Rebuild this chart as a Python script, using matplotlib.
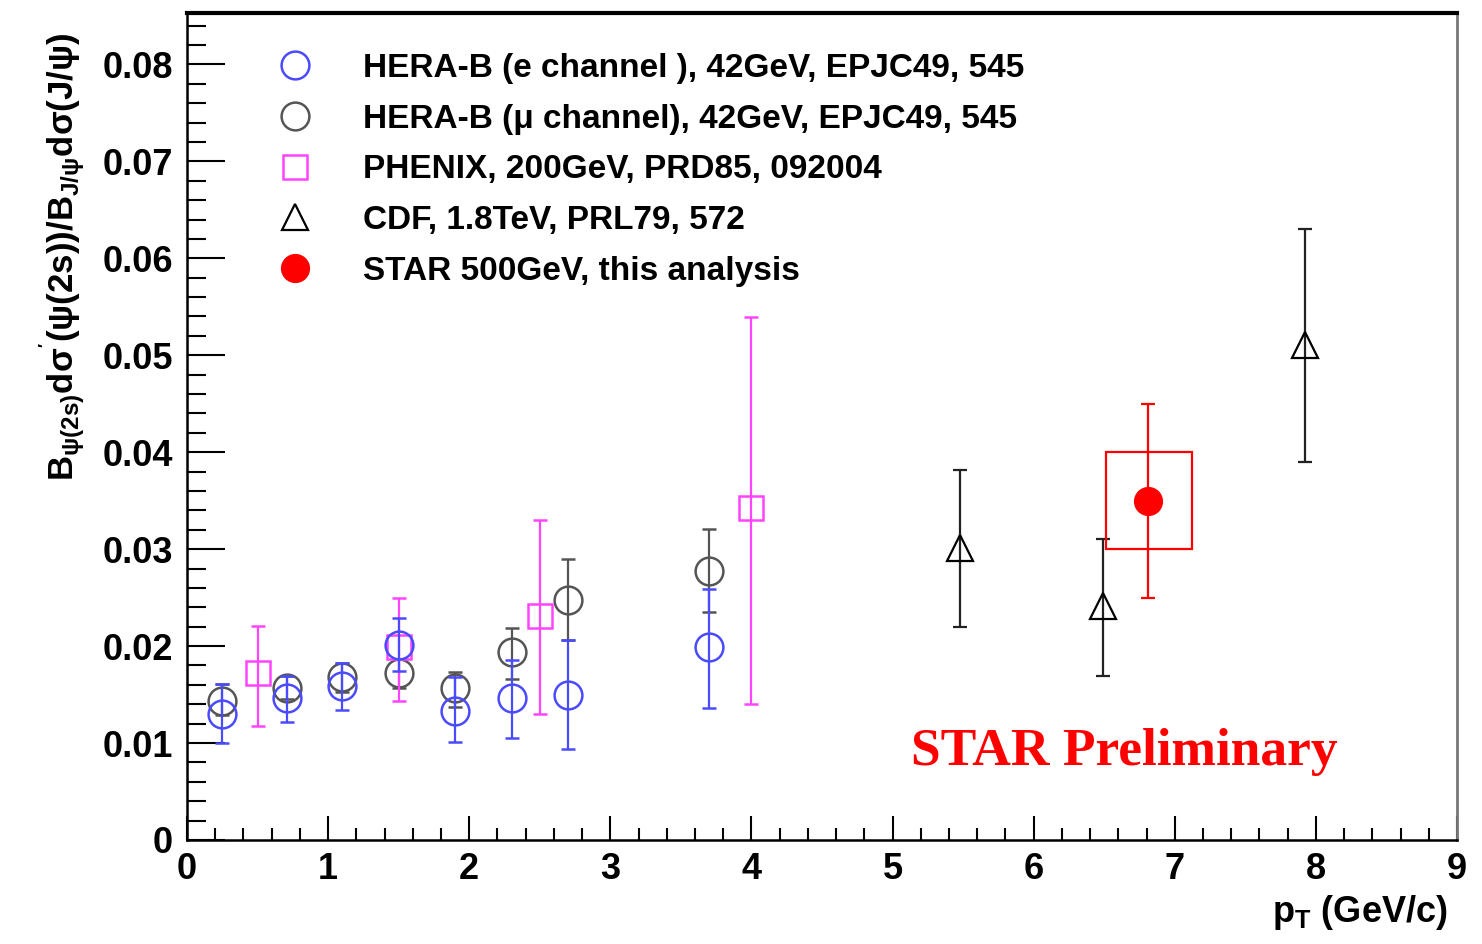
import numpy as np
import matplotlib.pyplot as plt
from matplotlib.lines import Line2D
from matplotlib.patches import Rectangle
from matplotlib.ticker import MultipleLocator

# HERA-B, e channel
herab_e_pt = [0.25, 0.71, 1.1, 1.5, 1.9, 2.3, 2.7, 3.7]
herab_e_val = [0.0130, 0.0146, 0.0159, 0.0201, 0.0133, 0.0146, 0.0150, 0.0199]
herab_e_lo = [0.0100, 0.0122, 0.0134, 0.0174, 0.0101, 0.0105, 0.0094, 0.0136]
herab_e_hi = [0.0161, 0.0169, 0.0183, 0.0229, 0.0168, 0.0186, 0.0206, 0.0259]

# HERA-B, mu channel
herab_mu_pt = [0.25, 0.71, 1.1, 1.5, 1.9, 2.3, 2.7, 3.7]
herab_mu_val = [0.0143, 0.0157, 0.0168, 0.0172, 0.0157, 0.0194, 0.0248, 0.0277]
herab_mu_lo = [0.0129, 0.0145, 0.0153, 0.0157, 0.0137, 0.0166, 0.0206, 0.0235]
herab_mu_hi = [0.0161, 0.0169, 0.0183, 0.0187, 0.0173, 0.0219, 0.0290, 0.0321]

# PHENIX
phenix_pt = [0.5, 1.5, 2.5, 4.0]
phenix_val = [0.0172, 0.0199, 0.0231, 0.0342]
phenix_lo = [0.0118, 0.0143, 0.0130, 0.0140]
phenix_hi = [0.0221, 0.0250, 0.0330, 0.0539]

# CDF
cdf_pt = [5.48, 6.49, 7.92]
cdf_val = [0.0301, 0.0241, 0.0511]
cdf_lo = [0.0220, 0.0169, 0.0390]
cdf_hi = [0.0382, 0.0310, 0.0630]

# STAR (stat error bar + systematic box)
star_pt = [6.81]
star_val = [0.0350]
star_lo = [0.0250]
star_hi = [0.0450]
star_sys_pt = [6.51, 7.12]
star_sys_val = [0.0300, 0.0400]

labels = ['HERA-B (e channel ), 42GeV, EPJC49, 545',
          'HERA-B (\u03bc channel), 42GeV, EPJC49, 545',
          'PHENIX, 200GeV, PRD85, 092004',
          'CDF, 1.8TeV, PRL79, 572',
          'STAR 500GeV, this analysis']

plt.rcParams['font.family'] = ['Liberation Sans', 'DejaVu Sans']
plt.rcParams['font.weight'] = 'bold'
plt.rcParams['axes.labelweight'] = 'bold'
plt.rcParams['mathtext.fontset'] = 'custom'
plt.rcParams['mathtext.rm'] = 'Liberation Sans:bold'
plt.rcParams['mathtext.it'] = 'Liberation Sans:bold'
plt.rcParams['mathtext.bf'] = 'Liberation Sans:bold'

fig = plt.figure(figsize=(14.82, 9.44), dpi=100)
ax = fig.add_axes([0.1262, 0.1102, 0.8569, 0.8760])

blue = '#4a4aff'
grey = '#555555'
magenta = '#ff44ff'


def yerr(val, lo, hi):
    val = np.array(val)
    return [val - np.array(lo), np.array(hi) - val]


ax.errorbar(herab_mu_pt, herab_mu_val, yerr=yerr(herab_mu_val, herab_mu_lo, herab_mu_hi),
            fmt='o', ms=20, mfc='none', mec=grey, mew=1.8, ecolor=grey, elinewidth=1.6,
            capsize=5, capthick=1.6, zorder=3)
ax.errorbar(phenix_pt, phenix_val, yerr=yerr(phenix_val, phenix_lo, phenix_hi),
            fmt='s', ms=17, mfc='none', mec=magenta, mew=1.8, ecolor=magenta, elinewidth=1.6,
            capsize=5, capthick=1.6, zorder=4)
ax.errorbar(herab_e_pt, herab_e_val, yerr=yerr(herab_e_val, herab_e_lo, herab_e_hi),
            fmt='o', ms=20, mfc='none', mec=blue, mew=1.8, ecolor=blue, elinewidth=1.6,
            capsize=5, capthick=1.6, zorder=5)
ax.errorbar(cdf_pt, cdf_val, yerr=yerr(cdf_val, cdf_lo, cdf_hi),
            fmt='^', ms=19, mfc='none', mec='black', mew=1.6, ecolor='#222222', elinewidth=1.6,
            capsize=5, capthick=1.6, zorder=5)
ax.add_patch(Rectangle((star_sys_pt[0], star_sys_val[0]), star_sys_pt[1] - star_sys_pt[0],
                       star_sys_val[1] - star_sys_val[0], fill=False, ec='red', lw=1.6, zorder=5))
ax.errorbar(star_pt, star_val, yerr=yerr(star_val, star_lo, star_hi),
            fmt='o', ms=20, mfc='red', mec='red', ecolor='red', elinewidth=1.6,
            capsize=5, capthick=1.6, zorder=6)

ax.text(5.13, 0.0077, 'STAR Preliminary', color='red', fontsize=38.5,
        family=['Liberation Serif'], fontweight='bold')

handles = [Line2D([], [], ls='none', marker='o', ms=20, mfc='none', mec=blue, mew=1.8),
           Line2D([], [], ls='none', marker='o', ms=20, mfc='none', mec=grey, mew=1.8),
           Line2D([], [], ls='none', marker='s', ms=17, mfc='none', mec=magenta, mew=1.8),
           Line2D([], [], ls='none', marker='^', ms=19, mfc='none', mec='black', mew=1.6),
           Line2D([], [], ls='none', marker='o', ms=20, mfc='red', mec='red')]
ax.legend(handles, labels, loc='upper left', bbox_to_anchor=(0.0483, 0.9678), frameon=False,
          fontsize=24, handletextpad=1.03, labelspacing=0.59, borderaxespad=0.0,
          handlelength=2.0)

ax.set_xlim(0, 9)
ax.set_ylim(0, 0.0853)
ax.xaxis.set_major_locator(MultipleLocator(1))
ax.xaxis.set_minor_locator(MultipleLocator(0.2))
ax.yaxis.set_major_locator(MultipleLocator(0.01))
ax.yaxis.set_minor_locator(MultipleLocator(0.002))
ax.yaxis.set_major_formatter(plt.FuncFormatter(lambda v, p: '0' if v == 0 else f'{v:.2f}'))
ax.tick_params(which='both', direction='in', labelsize=26, width=1.5, top=False, right=False)
ax.tick_params(axis='y', which='major', length=27, pad=10)
ax.tick_params(axis='y', which='minor', length=14)
ax.tick_params(axis='x', which='major', length=17, pad=9)
ax.tick_params(axis='x', which='minor', length=8.5)
for s in ['left', 'bottom']:
    ax.spines[s].set_linewidth(1.8)
ax.spines['top'].set_linewidth(3)
ax.spines['right'].set_color('#777777')
ax.spines['right'].set_linewidth(2)

ax.set_xlabel('p$_{T}$ (GeV/c)', fontsize=26, ha='right')
ax.xaxis.set_label_coords(0.993, -0.064)
ax.set_ylabel("B$_{\\psi(2s)}$d\u03c3$^{'}$(\u03c8(2s))/B$_{J/\\psi}$d\u03c3(J/\u03c8)",
              fontsize=25)
ax.yaxis.set_label_coords(-0.079, 0.705)

fig.savefig('out.png', dpi=100)
